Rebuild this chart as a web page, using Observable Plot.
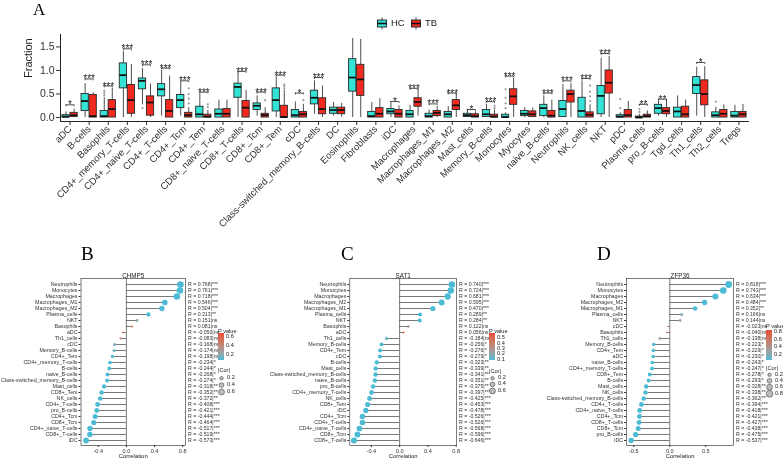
<!DOCTYPE html>
<html><head><meta charset="utf-8">
<script src="https://cdn.jsdelivr.net/npm/d3@7"></script>
<script src="https://cdn.jsdelivr.net/npm/@observablehq/plot@0.6"></script>
<style>
body{margin:0;background:#fff;font-family:"Liberation Sans",Arial,sans-serif;}
#root{position:relative;width:783px;height:461px;overflow:hidden;background:#fff;}
#root svg,#root .t,#root .letter{will-change:transform;}
.t{position:absolute;white-space:nowrap;line-height:1;color:#222;font-family:"Liberation Sans",Arial,sans-serif;}
.letter{position:absolute;font-family:"Liberation Serif","Times New Roman",serif;line-height:1;color:#000;}
</style></head><body><div id="root"></div>
<script>
// ---------- Panel A data ----------
const cells = ["aDC","B-cells","Basophils","CD4+_memory_T-cells","CD4+_naive_T-cells","CD4+_T-cells","CD4+_Tcm","CD4+_Tem","CD8+_naive_T-cells","CD8+_T-cells","CD8+_Tcm","CD8+_Tem","cDC","Class-switched_memory_B-cells","DC","Eosinophils","Fibroblasts","iDC","Macrophages","Macrophages_M1","Macrophages_M2","Mast_cells","Memory_B-cells","Monocytes","Myocytes","naive_B-cells","Neutrophils","NK_cells","NKT","pDC","Plasma_cells","pro_B-cells","Tgd_cells","Th1_cells","Th2_cells","Tregs"];
const groups = ["HC","TB"];
const hcLo  = [0,0,0,0,0.27,0.03,0.03,0,0,0,0.03,0,0,0.07,0.03,0,0,0,0,0,0,0,0,0,0,0,0,0,0,0,0,0.03,0,0.03,0,0];
const hcQ1  = [0,0.14,0,0.62,0.6,0.45,0.2,0,0,0.42,0.16,0.13,0,0.28,0.08,0.55,0,0.07,0,0,0,0.01,0.01,0,0.03,0.03,0.01,0,0.07,0,0,0.08,0,0.5,0,0];
const hcMed = [0.02,0.35,0.03,0.9,0.78,0.6,0.37,0.07,0.08,0.65,0.25,0.37,0.05,0.42,0.16,0.85,0.03,0.13,0.07,0.03,0.07,0.05,0.07,0.01,0.08,0.2,0.18,0.14,0.46,0.02,0,0.2,0.13,0.69,0.05,0.04];
const hcQ3  = [0.05,0.5,0.14,1.15,0.83,0.71,0.48,0.23,0.17,0.72,0.3,0.62,0.16,0.57,0.21,1.24,0.12,0.18,0.14,0.08,0.12,0.08,0.16,0.06,0.14,0.27,0.35,0.42,0.67,0.05,0.02,0.27,0.21,0.86,0.11,0.12];
const hcHi  = [0.12,0.72,0.42,1.4,1.04,1.0,0.74,0.5,0.37,0.95,0.46,0.85,0.33,0.78,0.32,1.68,0.32,0.3,0.26,0.16,0.23,0.14,0.28,0.1,0.21,0.46,0.7,0.78,1.26,0.1,0.07,0.35,0.46,1.07,0.22,0.26];
const tbLo  = [0,0,0,0,0,0,0,0,0,0,0,0,0,0,0.01,0,0,0,0.03,0,0,0,0,0,0,0,0,0,0,0,0,0,0,0,0,0];
const tbQ1  = [0.01,0,0,0.08,0.04,0,0,0,0,0,0,0,0,0.07,0.07,0.46,0,0,0.23,0.03,0.16,0,0,0.27,0.01,0,0.32,0,0.51,0,0,0.07,0,0.26,0,0];
const tbMed = [0.05,0.03,0.18,0.37,0.32,0.14,0.05,0.02,0.08,0.21,0.05,0.01,0.07,0.18,0.16,0.81,0.08,0.08,0.33,0.1,0.26,0.03,0.02,0.45,0.07,0.04,0.5,0.06,0.74,0.05,0.03,0.14,0.07,0.5,0.08,0.07];
const tbQ3  = [0.1,0.48,0.37,0.69,0.45,0.37,0.1,0.06,0.18,0.35,0.08,0.25,0.12,0.41,0.21,1.12,0.2,0.16,0.41,0.14,0.37,0.07,0.06,0.6,0.13,0.14,0.57,0.11,1.0,0.16,0.06,0.2,0.23,0.79,0.16,0.12];
const tbHi  = [0.18,0.53,0.62,1.13,0.71,0.88,0.21,0.15,0.37,0.58,0.21,0.58,0.28,0.67,0.3,1.66,0.4,0.25,0.6,0.23,0.5,0.12,0.16,0.83,0.2,0.37,0.72,0.27,1.3,0.34,0.14,0.37,0.37,1.08,0.27,0.28];
// outliers
const outCell = [2,2,2,4,6,6,6,6,7,7,10,11,11,11,12,22,22,23,23,23,23,27,27,27,27,29,29,30,30,34];
const outGrp  = ["HC","HC","HC","HC","TB","TB","TB","TB","TB","TB","TB","TB","TB","TB","TB","TB","TB","HC","HC","HC","HC","TB","TB","TB","TB","HC","HC","HC","HC","HC"];
const outVal  = [0.47,0.52,0.57,0.2,0.3,0.4,0.5,0.62,0.22,0.28,0.37,0.62,0.67,0.7,0.37,0.2,0.25,0.2,0.3,0.42,0.6,0.35,0.45,0.55,0.68,0.2,0.39,0.12,0.18,0.34];
// significance
const sigCell = [0,1,2,3,4,5,6,7,9,10,11,12,13,17,18,19,20,21,22,23,25,26,27,28,30,31,33];
const sigLab  = ["*","***","***","***","***","***","***","***","***","***","***","*","***","*","***","***","***","*","***","***","***","***","***","***","**","**","*"];
const sigY    = [0.27,0.82,0.67,1.46,1.12,1.05,0.78,0.54,0.98,0.54,0.9,0.52,0.85,0.34,0.62,0.29,0.52,0.17,0.34,0.88,0.52,0.78,0.83,1.36,0.28,0.39,1.17];

// ---------- Panels B, C, D data ----------
const bCells = ["Neutrophils","Monocytes","Macrophages","Macrophages_M1","Macrophages_M2","Plasma_cells","NKT","Basophils","aDC","Th1_cells","cDC","Memory_B-cells","CD4+_Tem","CD4+_memory_T-cells","B-cells","naive_B-cells","Class-switched_memory_B-cells","Mast_cells","CD8+_Tem","NK_cells","CD4+_T-cells","pro_B-cells","CD4+_Tcm","CD8+_Tcm","CD4+_naive_T-cells","CD8+_T-cells","iDC"];
const bR = [0.768,0.761,0.718,0.546,0.504,0.313,0.151,0.081,-0.050,-0.083,-0.168,-0.174,-0.198,-0.234,-0.244,-0.268,-0.274,-0.318,-0.352,-0.372,-0.408,-0.421,-0.444,-0.464,-0.517,-0.519,-0.573];
const bSig = ["***","***","***","***","***","**","ns","ns","ns","ns","ns","ns","ns","*","*","*","*","**","**","**","***","***","***","***","***","***","***"];
const bP = [0,0,0,0,0,0.009,0.21,0.5,0.68,0.5,0.17,0.15,0.1,0.05,0.04,0.025,0.022,0.008,0.003,0.002,0.0005,0.0003,0.0001,0,0,0,0];

const cCells = ["Neutrophils","Monocytes","Macrophages","Macrophages_M2","Macrophages_M1","Plasma_cells","NKT","Basophils","aDC","Th1_cells","Memory_B-cells","CD4+_Tem","cDC","B-cells","Mast_cells","Class-switched_memory_B-cells","naive_B-cells","pro_B-cells","CD4+_memory_T-cells","NK_cells","CD8+_Tem","iDC","CD4+_Tcm","CD4+_T-cells","CD4+_naive_T-cells","CD8+_Tcm","CD8+_T-cells"];
const cR = [0.740,0.724,0.681,0.595,0.470,0.289,0.284,0.122,0.056,-0.184,-0.256,-0.276,-0.279,-0.323,-0.339,-0.341,-0.351,-0.375,-0.397,-0.425,-0.453,-0.478,-0.526,-0.526,-0.568,-0.596,-0.646];
const cSig = ["***","***","***","***","***","**","**","ns","ns","ns","*","*","*","**","**","**","**","**","***","***","***","***","***","***","***","***","***"];
const cP = [0,0,0,0,0,0.016,0.018,0.32,0.65,0.13,0.035,0.022,0.02,0.007,0.005,0.005,0.004,0.0016,0.0008,0.0003,0.0001,0,0,0,0,0,0];

const dCells = ["Neutrophils","Monocytes","Macrophages","Macrophages_M2","Macrophages_M1","Plasma_cells","NKT","cDC","Basophils","Th1_cells","Memory_B-cells","CD4+_Tem","aDC","naive_B-cells","CD4+_memory_T-cells","CD8+_Tem","B-cells","Mast_cells","NK_cells","Class-switched_memory_B-cells","CD4+_T-cells","CD4+_naive_T-cells","CD4+_Tcm","CD8+_T-cells","CD8+_Tcm","pro_B-cells","iDC"];
const dR = [0.818,0.743,0.634,0.484,0.352,0.166,0.144,-0.023,-0.040,-0.138,-0.223,-0.229,-0.230,-0.243,-0.247,-0.278,-0.293,-0.328,-0.338,-0.362,-0.394,-0.418,-0.421,-0.427,-0.438,-0.475,-0.537];
const dSig = ["***","***","***","***","**","ns","ns","ns","ns","ns","*","*","*","*","*","*","*","**","**","**","***","***","***","***","***","***","***"];
const dP = [0,0,0,0,0.003,0.17,0.24,0.85,0.74,0.26,0.06,0.055,0.054,0.045,0.042,0.02,0.015,0.006,0.005,0.002,0.0007,0.0003,0.0003,0.0002,0.0001,0,0];

// ---------- styling ----------
const hcColor = "#33E3D5", tbColor = "#F2291F";
const lowP = "#4DBBD5", highP = "#E64B35";
const FONT = "Liberation Sans, Arial, sans-serif";
const root = document.getElementById("root");
function place(el, left, top){ el.style.position="absolute"; el.style.left=left+"px"; el.style.top=top+"px"; root.appendChild(el); return el; }
function txt(s, left, top, size, extra){ const d=document.createElement("div"); d.className="t"; d.textContent=s; d.style.fontSize=size+"px"; if(extra) Object.assign(d.style, extra); return place(d,left,top); }
function letter(s,left,top,size){ const d=document.createElement("div"); d.className="letter"; d.textContent=s; d.style.fontSize=size+"px"; return place(d,left,top); }

// ---------- Panel A ----------
const off = 0.21, hw = 0.19;
const boxes = cells.flatMap((c,i)=>[
  {i, g:"HC", x:i-off, lo:hcLo[i], q1:hcQ1[i], med:hcMed[i], q3:hcQ3[i], hi:hcHi[i]},
  {i, g:"TB", x:i+off, lo:tbLo[i], q1:tbQ1[i], med:tbMed[i], q3:tbQ3[i], hi:tbHi[i]}
]);
const outs = outCell.map((i,k)=>({x: i + (outGrp[k]==="HC" ? -off : off), v: outVal[k]}));
const sig = sigCell.map((i,k)=>({i, lab:sigLab[k], y:sigY[k]}));

const plotA = Plot.plot({
  width:783, height:215, marginLeft:60, marginRight:35, marginTop:34, marginBottom:94,
  style:{fontFamily:FONT, fontSize:"10px", color:"#222", background:"transparent", overflow:"visible"},
  x:{domain:[-0.5, cells.length-0.5]},
  y:{domain:[-0.084, 1.764]},
  color:{domain:groups, range:[hcColor, tbColor]},
  marks:[
    Plot.axisX({ticks:d3.range(cells.length), tickFormat:i=>cells[i], tickRotate:-45, tickSize:4, tickPadding:2, label:null, fontSize:9.6, color:"#333"}),
    Plot.axisY({ticks:[0,0.5,1,1.5], tickFormat:d=>d.toFixed(1), tickSize:4, tickPadding:2, label:null, fontSize:10.5, color:"#333"}),
    Plot.frame({anchor:"left", stroke:"#222"}),
    Plot.frame({anchor:"bottom", stroke:"#222"}),
    Plot.text(["Fraction"], {frameAnchor:"left", rotate:-90, dx:-32, fontSize:11, fill:"#222"}),
    Plot.dot(outs, {x:"x", y:"v", r:1.1, fill:"#9a9a9a"}),
    Plot.ruleX(boxes, {x:"x", y1:"lo", y2:"hi", stroke:"#222", strokeWidth:0.8}),
    Plot.rect(boxes, {x1:d=>d.x-hw, x2:d=>d.x+hw, y1:"q1", y2:"q3", fill:"g", stroke:"#2a2a2a", strokeWidth:0.9}),
    Plot.ruleY(boxes, {y:"med", x1:d=>d.x-hw, x2:d=>d.x+hw, stroke:"#111", strokeWidth:1.8}),
    Plot.ruleY(sig, {y:"y", x1:d=>d.i-off, x2:d=>d.i+off, stroke:"#222", strokeWidth:0.8}),
    Plot.ruleX(sig, {x:d=>d.i-off, y1:"y", y2:d=>d.y-0.04, stroke:"#222", strokeWidth:0.8}),
    Plot.ruleX(sig, {x:d=>d.i+off, y1:"y", y2:d=>d.y-0.04, stroke:"#222", strokeWidth:0.8}),
    Plot.text(sig, {x:"i", y:"y", text:"lab", lineAnchor:"bottom", dy:3.5, fontSize:10, fill:"#222"})
  ]
});
place(plotA, 0, 0);
letter("A", 33, 1, 17);

// Panel A legend (HC / TB)
function boxKey(color){
  const s = d3.create("svg").attr("width",12).attr("height",13);
  s.append("line").attr("x1",6).attr("x2",6).attr("y1",0.5).attr("y2",12.5).attr("stroke","#222").attr("stroke-width",0.8);
  s.append("rect").attr("x",1.5).attr("y",3).attr("width",9).attr("height",7).attr("fill",color).attr("stroke","#222").attr("stroke-width",0.9);
  s.append("line").attr("x1",1.5).attr("x2",10.5).attr("y1",6.5).attr("y2",6.5).attr("stroke","#111").attr("stroke-width",1.6);
  return s.node();
}
place(boxKey(hcColor), 376, 16.5);
txt("HC", 391, 18, 9.5);
place(boxKey(tbColor), 410, 16.5);
txt("TB", 425, 18, 9.5);

// ---------- Panels B, C, D ----------
function lollipop(cfg){
  const data = cfg.cats.map((c,k)=>({c, r:cfg.r[k], s:cfg.sig[k], p:cfg.p[k]}));
  const plot = Plot.plot({
    width:cfg.width, height:199, marginLeft:cfg.mL, marginRight:cfg.mR, marginTop:16, marginBottom:16,
    style:{fontFamily:FONT, fontSize:"5.3px", color:"#222", background:"transparent", overflow:"visible"},
    x:{domain:cfg.xDomain},
    y:{type:"point", domain:cfg.cats, padding:0.6},
    r:{domain:[0, cfg.rMax], range:[0, 3.4]},
    color:{type:"linear", domain:cfg.pDomain, range:[lowP, highP], interpolate:"lab", clamp:true},
    marks:[
      Plot.ruleX([0], {stroke:"#222", strokeWidth:0.6}),
      Plot.ruleY(data, {y:"c", x1:0, x2:"r", stroke:"#555", strokeWidth:0.8}),
      Plot.dot(data, {x:"r", y:"c", r:d=>Math.abs(d.r), fill:"p"}),
      Plot.frame({stroke:"#222", strokeWidth:0.6}),
      Plot.axisY({tickSize:2, tickPadding:1.5, label:null, fontSize:5.3, color:"#333"}),
      Plot.axisX({ticks:cfg.xTicks, tickFormat:d=>d.toFixed(1), tickSize:2, tickPadding:1.5, label:null, fontSize:5.6, color:"#333"}),
      Plot.text(["Correlation"], {frameAnchor:"bottom", dy:12.5, fontSize:5.9, fill:"#222"}),
      Plot.text([cfg.gene], {frameAnchor:"top", dy:-5, fontSize:6.3, fill:"#222"}),
      Plot.text(data, {y:"c", frameAnchor:"right", dx:2.5, textAnchor:"start", text:d=>`R = ${d.r.toFixed(3)}|${d.s}`, fontSize:5.2, fill:"#333", ariaLabel:"rlab"})
    ]
  });
  d3.select(plot).selectAll('g[aria-label="rlab"] text').each(function(){
    const [a,b] = this.textContent.split("|");
    const t = d3.select(this); t.text(null);
    t.append("tspan").attr("font-style","italic").text("R");
    t.append("tspan").text(a.slice(1));
    t.append("tspan").attr("dy","-0.45em").attr("font-size","0.65em").text(b);
  });
  place(plot, cfg.left, 262);
  // legends
  const L = cfg.leg;
  const cs = plot.scale("color"), rs = plot.scale("r");
  const [d0,d1] = cfg.pDomain;
  txt("P value", L.x, L.titleTop, 5.6);
  const stops = d3.range(0,1.0001,0.1).map(t=>cs.apply(d0 + t*(d1-d0)) + " " + (t*100).toFixed(0) + "%").join(",");
  const bar = document.createElement("div");
  bar.style.cssText = `width:5.5px;height:${L.barH}px;background:linear-gradient(to top, ${stops});`;
  place(bar, L.x, L.barTop);
  L.pTicks.forEach(v=>{
    const y = L.barTop + L.barH - (v-d0)/(d1-d0)*L.barH;
    txt(v.toFixed(1), L.x+8, y-2.8, 5.6);
  });
  txt("|Cor|", L.x, L.corTop, 5.6);
  const s = d3.create("svg").attr("width",14).attr("height",40).style("overflow","visible");
  L.corTicks.forEach((v,k)=>{
    s.append("circle").attr("cx",3.5).attr("cy",L.corY[k]-L.corTop).attr("r",rs.apply(v)).attr("fill","#bdbdbd").attr("stroke","#444").attr("stroke-width",0.6);
    txt(v.toFixed(1), L.x+9, L.corY[k]-2.8, 5.6);
  });
  place(s.node(), L.x, L.corTop);
}

lollipop({gene:"CHMP5", cats:bCells, r:bR, sig:bSig, p:bP, left:0, width:260, mL:80.5, mR:75,
  xDomain:[-0.645,0.84], xTicks:[-0.4,0,0.4,0.8], rMax:0.8, pDomain:[0.09,0.68],
  leg:{x:218, titleTop:329, barTop:333, barH:27, pTicks:[0.2,0.4,0.6], corTop:367.5, corTicks:[0.2,0.4,0.6], corY:[377.7,384.6,391.5]}});
lollipop({gene:"SAT1", cats:cCells, r:cR, sig:cSig, p:cP, left:260, width:270, mL:89.3, mR:74,
  xDomain:[-0.705,0.805], xTicks:[-0.4,0,0.4,0.8], rMax:0.8, pDomain:[0.087,0.6],
  leg:{x:489, titleTop:329, barTop:333, barH:27, pTicks:[0.1,0.2,0.3,0.4,0.5], corTop:368.5, corTicks:[0.2,0.4,0.6], corY:[377.7,383.9,390.5]}});
lollipop({gene:"ZFP36", cats:dCells, r:dR, sig:dSig, p:dP, left:520, width:263, mL:106.1, mR:50,
  xDomain:[-0.6,0.885], xTicks:[-0.5,0,0.5], rMax:0.8, pDomain:[0.05,0.85],
  leg:{x:766, titleTop:323.5, barTop:330, barH:30, pTicks:[0.2,0.4,0.6,0.8], corTop:365.5, corTicks:[0.2,0.4,0.6,0.8], corY:[374.3,380.3,386.7,393.3]}});

letter("B", 81, 244, 19);
letter("C", 341, 244, 19);
letter("D", 597, 244, 19);
</script></body></html>
